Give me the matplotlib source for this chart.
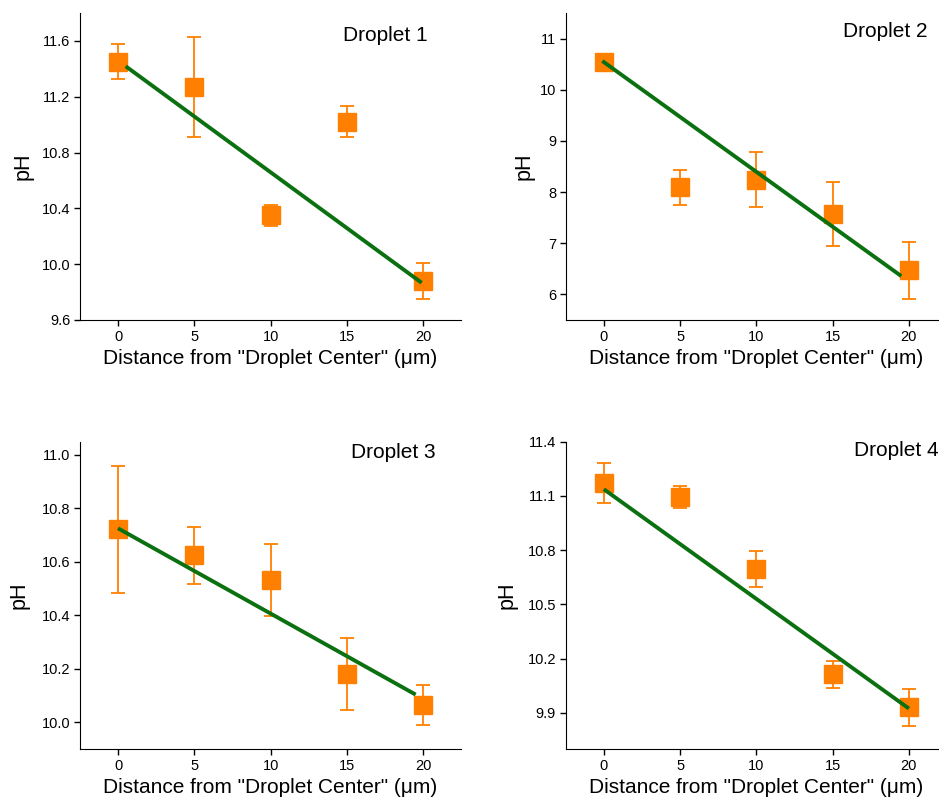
import numpy as np
import matplotlib.pyplot as plt

plt.rcParams['font.family'] = ['Liberation Sans', 'DejaVu Sans']

dist = [0, 5, 10, 15, 20]

ph1 = [11.45, 11.27, 10.35, 11.02, 9.88]
err1 = [0.125, 0.36, 0.075, 0.11, 0.13]
fit1_x = [0.6, 19.8]
fit1_y = [11.41, 9.875]

ph2 = [10.54, 8.09, 8.24, 7.57, 6.47]
err2 = [0.1, 0.35, 0.54, 0.63, 0.55]
fit2_x = [0.0, 19.4]
fit2_y = [10.54, 6.38]

ph3 = [10.722, 10.624, 10.533, 10.180, 10.064]
err3 = [0.237, 0.108, 0.135, 0.134, 0.075]
fit3_x = [0.1, 19.4]
fit3_y = [10.722, 10.107]

ph4 = [11.172, 11.095, 10.697, 10.112, 9.93]
err4 = [0.11, 0.06, 0.1, 0.072, 0.103]
fit4_x = [0.1, 19.9]
fit4_y = [11.13, 9.93]

panels = [
    dict(ph=ph1, err=err1, fx=fit1_x, fy=fit1_y, name='Droplet 1',
         pos=[0.0852, 0.6005, 0.406, 0.3833], ylim=(9.6, 11.8),
         yt=[9.6, 10.0, 10.4, 10.8, 11.2, 11.6], fmt='{:.1f}',
         txt=(0.913, 0.928), lab=-0.121),
    dict(ph=ph2, err=err2, fx=fit2_x, fy=fit2_y, name='Droplet 2',
         pos=[0.6025, 0.6005, 0.406, 0.3833], ylim=(5.5, 11.5),
         yt=[6, 7, 8, 9, 10, 11], fmt='{:.0f}',
         txt=(0.949, 0.939), lab=-0.081),
    dict(ph=ph3, err=err3, fx=fit3_x, fy=fit3_y, name='Droplet 3',
         pos=[0.0852, 0.0649, 0.406, 0.3839], ylim=(9.9, 11.05),
         yt=[10.0, 10.2, 10.4, 10.6, 10.8, 11.0], fmt='{:.1f}',
         txt=(0.932, 0.964), lab=-0.131),
    dict(ph=ph4, err=err4, fx=fit4_x, fy=fit4_y, name='Droplet 4',
         pos=[0.6025, 0.0649, 0.406, 0.3839], ylim=(9.7, 11.4),
         yt=[9.9, 10.2, 10.5, 10.8, 11.1, 11.4], fmt='{:.1f}',
         txt=(0.977, 0.971), lab=-0.126),
]

orange = '#ff8000'
green = '#0a7010'

fig = plt.figure(figsize=(9.39, 8.01), dpi=100)
for p in panels:
    ax = fig.add_axes(p['pos'])
    ax.errorbar(dist, p['ph'], yerr=p['err'], fmt='none', ecolor=orange,
                elinewidth=1.3, capsize=5, capthick=1.3, zorder=2)
    ax.plot(dist, p['ph'], 's', color=orange, markersize=12.5, zorder=3)
    ax.plot(p['fx'], p['fy'], '-', color=green, linewidth=2.8, zorder=4)
    ax.set_xlim(-2.5, 22.5)
    ax.set_ylim(*p['ylim'])
    ax.set_xticks(dist)
    ax.set_yticks(p['yt'])
    ax.set_yticklabels([p['fmt'].format(v) for v in p['yt']])
    ax.spines['top'].set_visible(False)
    ax.spines['right'].set_visible(False)
    ax.tick_params(direction='out', length=4, width=1, labelsize=10.5, pad=3)
    ax.set_xlabel('Distance from "Droplet Center" (\u03bcm)', fontsize=15)
    ax.set_ylabel('pH', fontsize=15.5)
    ax.yaxis.set_label_coords(p['lab'], 0.5)
    ax.text(p['txt'][0], p['txt'][1], p['name'], transform=ax.transAxes,
            ha='right', va='center', fontsize=15)

plt.savefig('out.png', dpi=100)
